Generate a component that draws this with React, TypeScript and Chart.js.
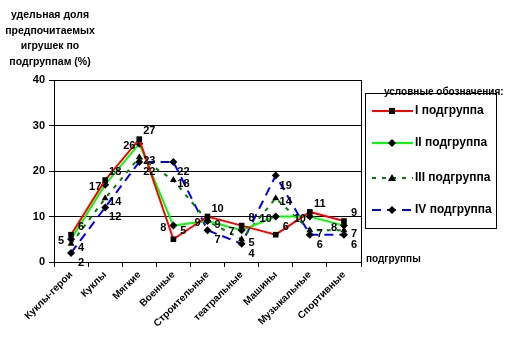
import React, { useEffect, useRef } from "react";
import { Chart, registerables } from "chart.js";

Chart.register(...registerables);

const categories = [
  "Куклы-герои",
  "Куклы",
  "Мягкие",
  "Военные",
  "Строительные",
  "театральные",
  "Машины",
  "Музыкальные",
  "Спортивные",
];
const seriesNames = ["I подгруппа", "II подгруппа", "III подгруппа", "IV подгруппа"];
const series1 = [6, 18, 27, 5, 10, 8, 6, 11, 9];
const series2 = [5, 17, 26, 8, 9, 7, 10, 10, 8];
const series3 = [4, 14, 23, 18, 9, 5, 14, 7, 7];
const series4 = [2, 12, 22, 22, 7, 4, 19, 6, 6];
const yTicks = [0, 10, 20, 30, 40];
const yTitleLines = ["удельная доля", "предпочитаемых", "игрушек по", "подгруппам (%)"];
const legendTitle = "условные обозначения:";
const xTitle = "подгруппы";

const FONT = "'Liberation Sans', Arial, sans-serif";

const colors = ["#FF0000", "#00FF00", "#008000", "#0000FF"];
const dashes = [[], [], [4, 6], [9, 6]];
const pstyles = ["rect", "rectRot", "triangle", "rectRot"];
const labelOffsets = [
  [10, -8],
  [-10, 2],
  [10, 4],
  [10, 10],
];

const overlay = {
  id: "overlay",
  afterDatasetsDraw(chart: any) {
    const ctx = chart.ctx;
    const a = chart.chartArea;
    ctx.save();
    // right border of plot area
    ctx.strokeStyle = "#000";
    ctx.lineWidth = 1;
    ctx.beginPath();
    ctx.moveTo(Math.round(a.right) + 0.5, a.top);
    ctx.lineTo(Math.round(a.right) + 0.5, a.bottom);
    ctx.stroke();
    // data labels
    ctx.fillStyle = "#000";
    ctx.font = `bold 11px ${FONT}`;
    ctx.textAlign = "center";
    ctx.textBaseline = "middle";
    chart.data.datasets.forEach((ds: any, di: number) => {
      const meta = chart.getDatasetMeta(di);
      meta.data.forEach((pt: any, i: number) => {
        const [dx, dy] = labelOffsets[di];
        ctx.fillText(String(ds.data[i]), pt.x + dx, pt.y + dy);
      });
    });
    // y title
    ctx.font = `bold 10.5px ${FONT}`;
    yTitleLines.forEach((l, i) => ctx.fillText(l, 50, 15 + i * 15.7));
    // x title
    ctx.font = `bold 10px ${FONT}`;
    ctx.textAlign = "left";
    ctx.fillText(xTitle, 366, 259);
    // legend
    ctx.strokeStyle = "#000";
    ctx.lineWidth = 1;
    ctx.strokeRect(365.5, 93.5, 131, 135);
    ctx.font = `bold 10px ${FONT}`;
    ctx.textAlign = "left";
    ctx.fillText(legendTitle, 384, 92);
    const ys = [111, 143, 178, 210];
    seriesNames.forEach((n, i) => {
      const y = ys[i];
      ctx.save();
      ctx.strokeStyle = colors[i];
      ctx.lineWidth = 2;
      ctx.setLineDash(dashes[i]);
      ctx.beginPath();
      ctx.moveTo(372, y);
      ctx.lineTo(413, y);
      ctx.stroke();
      ctx.restore();
      ctx.fillStyle = "#000";
      ctx.beginPath();
      if (i === 0) {
        ctx.rect(389, y - 3, 6, 6);
      } else if (i === 2) {
        ctx.moveTo(392, y - 4);
        ctx.lineTo(396, y + 3);
        ctx.lineTo(388, y + 3);
        ctx.closePath();
      } else {
        ctx.moveTo(392, y - 4);
        ctx.lineTo(396, y);
        ctx.lineTo(392, y + 4);
        ctx.lineTo(388, y);
        ctx.closePath();
      }
      ctx.fill();
      ctx.font = `bold 12px ${FONT}`;
      ctx.fillText(n, 415, y);
    });
    ctx.restore();
  },
};

export default function App() {
  const ref = useRef<HTMLCanvasElement>(null);
  useEffect(() => {
    const data = [series1, series2, series3, series4];
    const chart = new Chart(ref.current!, {
      type: "line",
      data: {
        labels: categories,
        datasets: data.map((d, i) => ({
          label: seriesNames[i],
          data: d,
          borderColor: colors[i],
          borderWidth: 2,
          borderDash: dashes[i],
          pointStyle: pstyles[i] as any,
          pointRadius: 4,
          pointBackgroundColor: "#000",
          pointBorderColor: "#000",
          pointBorderWidth: 0,
          tension: 0,
        })),
      },
      options: {
        animation: false,
        responsive: false,
        devicePixelRatio: 1,
        layout: { padding: { left: 0, top: 80, right: 171, bottom: 0 } },
        plugins: { legend: { display: false }, tooltip: { enabled: false } },
        scales: {
          x: {
            offset: true,
            afterFit: (s: any) => {
              s.height = 92;
            },
            grid: {
              offset: true,
              drawOnChartArea: false,
              color: "#000",
              tickLength: 5,
            },
            border: { color: "#000", width: 1 },
            ticks: {
              color: "#000",
              font: { family: FONT, size: 10, weight: "bold" },
              minRotation: 45,
              maxRotation: 45,
              autoSkip: false,
              padding: 2,
            },
          },
          y: {
            min: 0,
            max: 40,
            afterFit: (s: any) => {
              s.width = 54;
            },
            afterBuildTicks: (s: any) => {
              s.ticks = yTicks.map((v) => ({ value: v }));
            },
            grid: { color: "#000", tickLength: 5 },
            border: { color: "#000", width: 1 },
            ticks: {
              color: "#000",
              font: { family: FONT, size: 11, weight: "bold" },
              padding: 4,
            },
          },
        },
      },
      plugins: [overlay],
    });
    return () => chart.destroy();
  }, []);
  return (
    <div style={{ position: "fixed", left: 0, top: 0, width: 532, height: 354, background: "#fff" }}>
      <canvas ref={ref} width={532} height={354} style={{ width: 532, height: 354 }} />
    </div>
  );
}
